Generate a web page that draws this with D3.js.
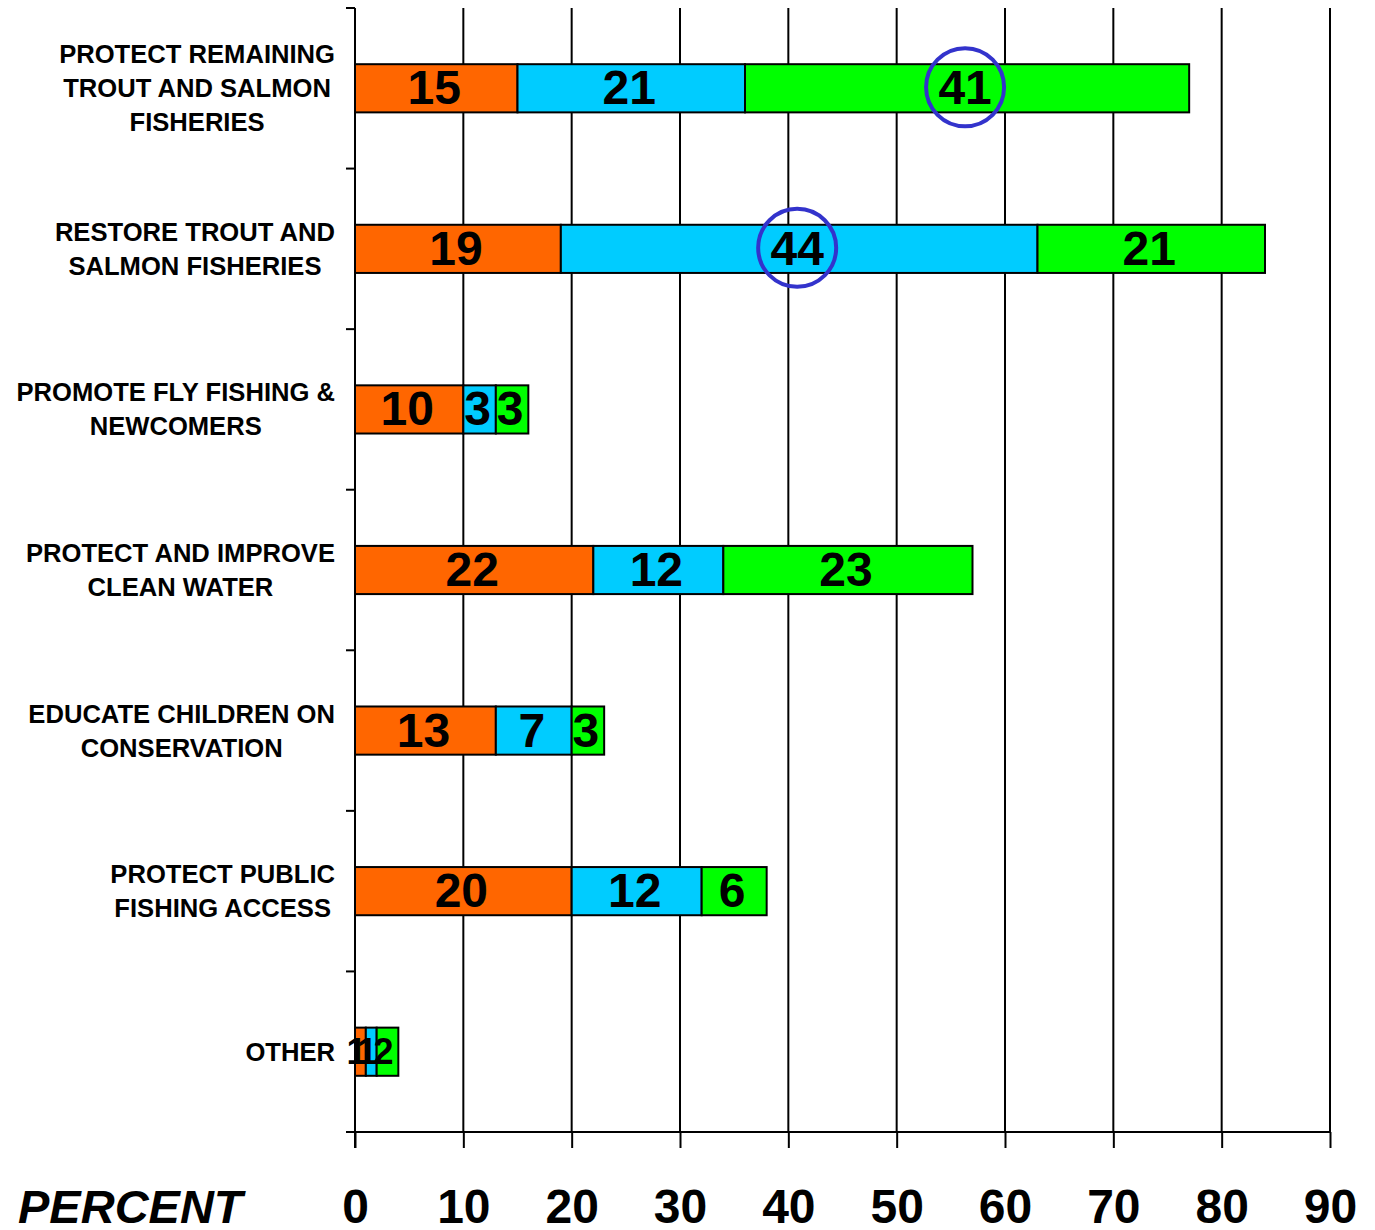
<!DOCTYPE html>
<html>
<head>
<meta charset="utf-8">
<script src="https://cdn.jsdelivr.net/npm/d3@7"></script>
<style>
  body { margin: 0; background: #fff; }
  text { font-family: "Liberation Sans", Arial, sans-serif; font-weight: bold; fill: #000; }
</style>
</head>
<body>
<div id="chart"></div>
<script>
// category labels, one entry per line
const categories = [
    ['PROTECT REMAINING', 'TROUT AND SALMON', 'FISHERIES'],
    ['RESTORE TROUT AND', 'SALMON FISHERIES'],
    ['PROMOTE FLY FISHING &', 'NEWCOMERS'],
    ['PROTECT AND IMPROVE', 'CLEAN WATER'],
    ['EDUCATE CHILDREN ON', 'CONSERVATION'],
    ['PROTECT PUBLIC', 'FISHING ACCESS'],
    ['OTHER']
];
const orangeValues = [15, 19, 10, 22, 13, 20, 1];
const blueValues = [21, 44, 3, 12, 7, 12, 1];
const greenValues = [41, 21, 3, 23, 3, 6, 2];
const xTicks = [0, 10, 20, 30, 40, 50, 60, 70, 80, 90];
const axisTitle = 'PERCENT';
// [category index, series index] of the circled labels
const circled = [[0, 2], [1, 1]];

const config = {
    width: 1375,
    height: 1230,
    left: 355,
    right: 1330,
    top: 8,
    bottom: 1132
};
const colors = ['#FF6600', '#00CCFF', '#00FF00'];
const keys = ['orange', 'blue', 'green'];

let table = categories.map((c, i) => ({
    idx: i,
    orange: orangeValues[i],
    blue: blueValues[i],
    green: greenValues[i]
}));

let svg = d3.select('#chart')
    .append('svg')
    .attr('width', config.width)
    .attr('height', config.height);

let x = d3.scaleLinear()
    .domain([0, 90])
    .range([config.left, config.right]);

let y = d3.scaleBand()
    .domain(table.map(d => d.idx))
    .range([config.top, config.bottom])
    .paddingInner(0.7)
    .paddingOuter(0.35);

let edge = d3.scaleLinear()
    .domain([0, categories.length])
    .range([config.top, config.bottom]);

// vertical gridlines
svg.append('g')
    .selectAll('line')
    .data(xTicks.filter(t => t > 0))
    .join('line')
    .attr('x1', d => x(d)).attr('x2', d => x(d))
    .attr('y1', config.top).attr('y2', config.bottom)
    .attr('stroke', '#000')
    .attr('stroke-width', 2);

// bottom axis
let xAxis = svg.append('g')
    .attr('transform', `translate(0, ${config.bottom})`)
    .call(d3.axisBottom(x).tickValues(xTicks).tickSize(16).tickSizeOuter(0));
xAxis.select('.domain').remove();
xAxis.selectAll('.tick line').attr('stroke', '#000').attr('stroke-width', 2);
xAxis.selectAll('.tick text')
    .attr('y', 91)
    .attr('dy', 0)
    .style('font-size', '48px')
    .style('font-family', '"Liberation Sans", Arial, sans-serif')
    .style('font-weight', 'bold')
    .attr('fill', '#000');
svg.append('line')
    .attr('x1', config.left - 9).attr('x2', config.right)
    .attr('y1', config.bottom).attr('y2', config.bottom)
    .attr('stroke', '#000').attr('stroke-width', 2);

// left axis with ticks on the category edges
svg.append('line')
    .attr('x1', config.left).attr('x2', config.left)
    .attr('y1', config.top).attr('y2', config.bottom + 16)
    .attr('stroke', '#000').attr('stroke-width', 2);
svg.append('g')
    .selectAll('line')
    .data(d3.range(categories.length + 1))
    .join('line')
    .attr('x1', config.left - 9).attr('x2', config.left)
    .attr('y1', d => edge(d)).attr('y2', d => edge(d))
    .attr('stroke', '#000').attr('stroke-width', 2);

svg.append('text')
    .attr('x', 18)
    .attr('y', 1223)
    .style('font-size', '47px')
    .style('font-style', 'italic')
    .text(axisTitle);

// category labels, centred block whose widest line ends at the axis
let labels = svg.append('g')
    .selectAll('g')
    .data(table)
    .join('g');
labels.each(function(d) {
    let g = d3.select(this);
    let lines = categories[d.idx];
    let cy = y(d.idx) + y.bandwidth() / 2;
    let texts = g.selectAll('text')
        .data(lines)
        .join('text')
        .style('font-size', '25.6px')
        .attr('text-anchor', 'middle')
        .attr('y', (l, i) => cy + (i - (lines.length - 1) / 2) * 34 + 9)
        .text(l => l);
    let maxW = d3.max(texts.nodes(), n => n.getComputedTextLength());
    texts.attr('x', 335 - maxW / 2);
});

// stacked bars
let stacked = d3.stack().keys(keys)(table);

let layers = svg.append('g')
    .selectAll('g')
    .data(stacked)
    .join('g')
    .attr('fill', (d, i) => colors[i]);

layers.selectAll('rect')
    .data(d => d)
    .join('rect')
    .attr('x', d => x(d[0]))
    .attr('y', d => y(d.data.idx))
    .attr('width', d => x(d[1]) - x(d[0]))
    .attr('height', y.bandwidth())
    .attr('stroke', '#000')
    .attr('stroke-width', 2);

// value labels
let last = categories.length - 1;
layers.selectAll('text')
    .data(d => d)
    .join('text')
    .attr('text-anchor', 'middle')
    .attr('x', d => x((d[0] + d[1]) / 2) - (d.data.idx === last ? 4 : 2))
    .attr('y', d => y(d.data.idx) + y.bandwidth() / 2 + (d.data.idx === last ? 12 : 16))
    .style('font-size', d => d.data.idx === last ? '36px' : '48px')
    .text(d => d[1] - d[0]);

// highlight circles
svg.append('g')
    .selectAll('circle')
    .data(circled)
    .join('circle')
    .attr('cx', d => {
        let s = stacked[d[1]][d[0]];
        return x((s[0] + s[1]) / 2) - 2;
    })
    .attr('cy', d => y(d[0]) + y.bandwidth() / 2 - 1)
    .attr('r', 39)
    .attr('fill', 'none')
    .attr('stroke', '#3333CC')
    .attr('stroke-width', 4);
</script>
</body>
</html>
